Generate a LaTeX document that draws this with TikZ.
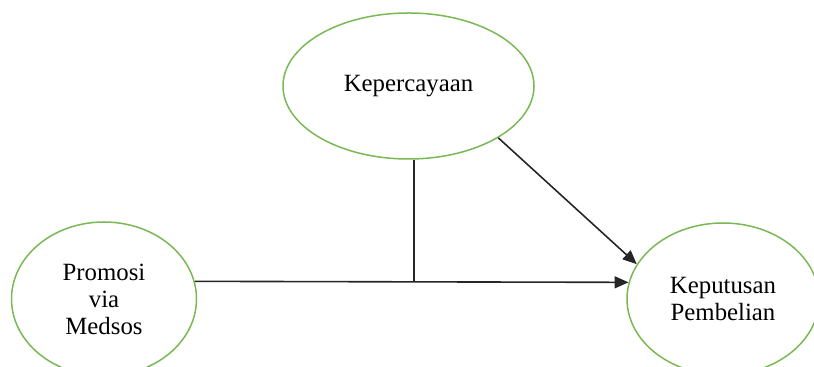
\documentclass[tikz,border=0pt]{standalone}
\usepackage{fontspec}
\setmainfont{Liberation Serif}
\usetikzlibrary{shapes.geometric,arrows.meta}
\definecolor{ovalgreen}{RGB}{122,184,84}
\begin{document}
\begin{tikzpicture}[x=0.5pt,y=-0.5pt,
  oval/.style={ellipse,draw=ovalgreen,line width=0.75pt,inner sep=0pt,align=center,
    font=\fontsize{12.4}{13.5}\selectfont},
  link/.style={draw=black!85,line width=0.8pt},
  arr/.style={link,-{Triangle[length=7pt,width=6pt]}}]
\useasboundingbox (0,0) rectangle (814,367);
\clip (0,0) rectangle (814,367);
\node[oval,minimum width=92.5pt,minimum height=77pt] (P) at (104,299) {Promosi\\via\\Medsos};
\node[oval,minimum width=125.5pt,minimum height=73pt] (K) at (408.5,86) {Kepercayaan};
\node[oval,minimum width=96pt,minimum height=76pt] (D) at (723,299) {Keputusan\\Pembelian};
\coordinate (j) at (414,282);
\draw[arr] (P.11) -- (D.170);
\draw[link] (j) -- (j |- K.south);
\draw[arr] (K.-30) -- (D.158);
\end{tikzpicture}
\end{document}
